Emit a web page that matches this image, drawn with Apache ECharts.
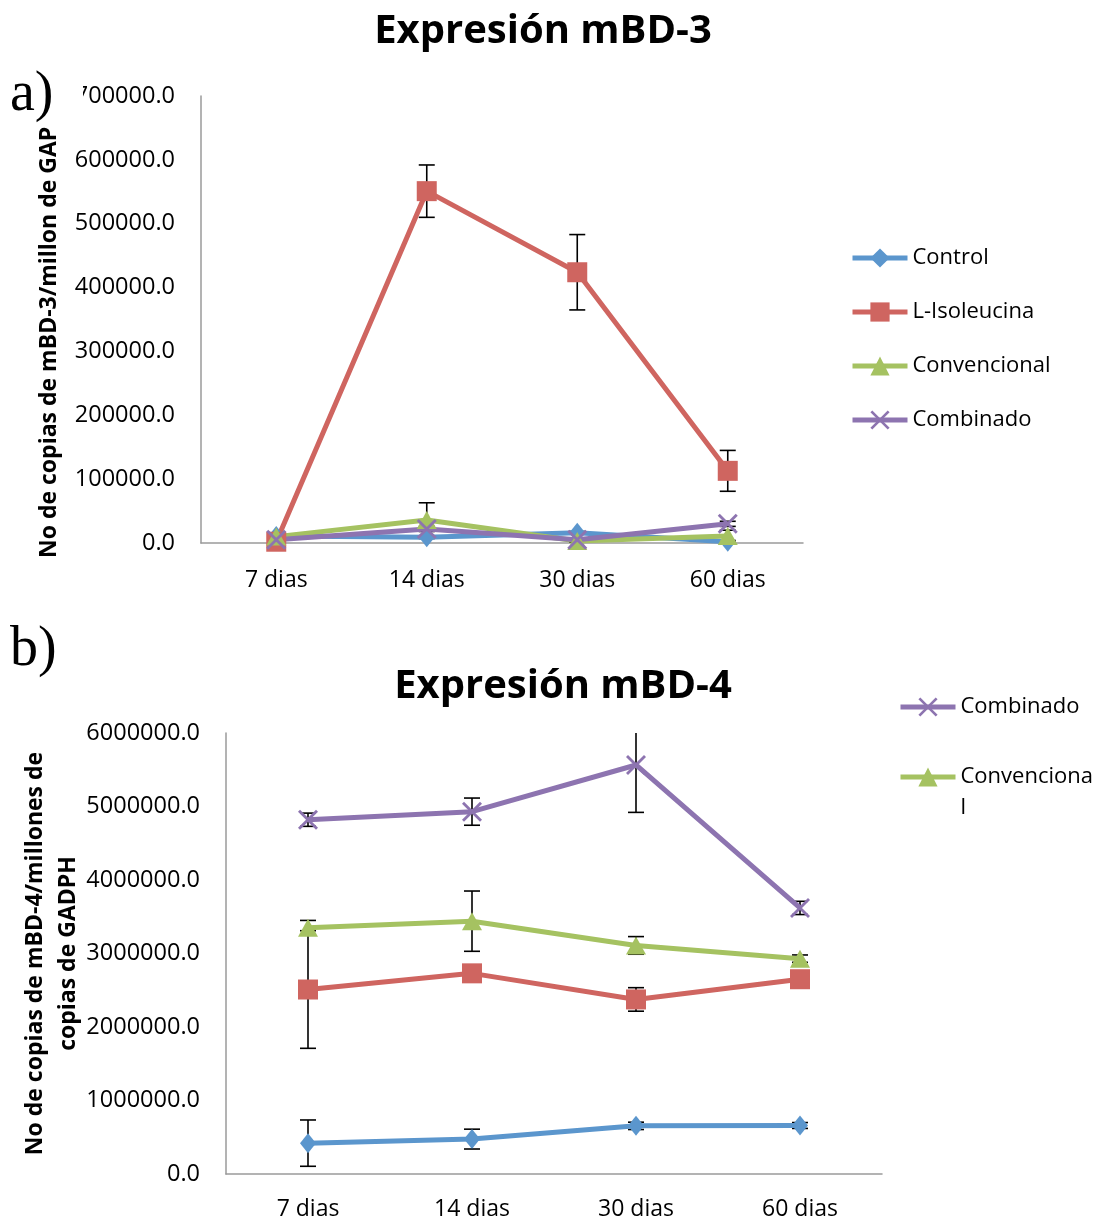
<!DOCTYPE html>
<html>
<head>
<meta charset="utf-8">
<script src="https://cdn.jsdelivr.net/npm/echarts@6/dist/echarts.min.js"></script>
<style>
  html, body { margin: 0; padding: 0; background: #fff; }
  #chart { width: 1101px; height: 1221px; }
</style>
</head>
<body>
<div id="chart"></div>
<script>
// categories and series
const categories = ['7 dias', '14 dias', '30 dias', '60 dias']
const seriesNames = ['Control', 'L-Isoleucina', 'Convencional', 'Combinado']

// mBD-3 (copias / millon de GAPDH)
const mbd3Control = [11000, 9000, 16000, 2000]
const mbd3ControlErr = [2000, 2000, 2000, 2000]
const mbd3Isoleucina = [2000, 551000, 424000, 113000]
const mbd3IsoleucinaErr = [2000, 41000, 59000, 32000]
const mbd3Convencional = [10000, 36000, 3000, 11000]
const mbd3ConvencionalErr = [3000, 27000, 2000, 9000]
const mbd3Combinado = [5000, 22000, 5000, 30000]
const mbd3CombinadoErr = [2000, 4000, 2000, 4000]

// mBD-4 (copias / millones de copias de GADPH)
const mbd4Control = [420000, 475000, 655000, 660000]
const mbd4ControlErr = [315000, 135000, 50000, 40000]
const mbd4Isoleucina = [2510000, 2730000, 2375000, 2650000]
const mbd4IsoleucinaErr = [800000, 40000, 160000, 40000]
const mbd4Convencional = [3350000, 3440000, 3110000, 2930000]
const mbd4ConvencionalErr = [100000, 410000, 120000, 50000]
const mbd4Combinado = [4820000, 4930000, 5565000, 3620000]
const mbd4CombinadoErr = [90000, 185000, 645000, 90000]

// tick settings
const mbd3Max = 700000
const mbd3Interval = 100000
const mbd4Max = 6000000
const mbd4Interval = 1000000

const colors = ['#5b96cd', '#cf6560', '#a5c261', '#8d74b0']
const symbols = [
  'diamond',
  'rect',
  'triangle',
  'path://M0,1 L1,0 L10,9 L9,10 Z M9,0 L10,1 L1,10 L0,9 Z',
]
const symbolSizes = [[16, 20], 20, [20, 18], 20]
const FONT = 'Open Sans'

const chart = echarts.init(document.getElementById('chart'), null, {
  renderer: 'canvas',
  width: 1101,
  height: 1221,
})

function lineSeries(idx, gridIdx, values) {
  return {
    name: seriesNames[idx],
    type: 'line',
    xAxisIndex: gridIdx,
    yAxisIndex: gridIdx,
    data: values,
    symbol: symbols[idx],
    symbolSize: symbolSizes[idx],
    showAllSymbol: true,
    lineStyle: { color: colors[idx], width: 5 },
    itemStyle: { color: colors[idx] },
    emphasis: { disabled: true },
    z: 3,
  }
}

function errorSeries(gridIdx, values, errs) {
  return {
    type: 'custom',
    xAxisIndex: gridIdx,
    yAxisIndex: gridIdx,
    clip: true,
    silent: true,
    z: 2,
    encode: { x: 0, y: [1, 2] },
    data: values.map((v, i) => [i, v - errs[i], v + errs[i]]),
    renderItem: (params, api) => {
      const i = api.value(0)
      const lo = api.coord([i, api.value(1)])
      const hi = api.coord([i, api.value(2)])
      const w = 8
      const style = { stroke: '#000', lineWidth: 1.6 }
      return {
        type: 'group',
        children: [
          { type: 'line', shape: { x1: lo[0], y1: lo[1], x2: hi[0], y2: hi[1] }, style },
          { type: 'line', shape: { x1: hi[0] - w, y1: hi[1], x2: hi[0] + w, y2: hi[1] }, style },
          { type: 'line', shape: { x1: lo[0] - w, y1: lo[1], x2: lo[0] + w, y2: lo[1] }, style },
        ],
      }
    },
  }
}

const axisLineStyle = { show: true, lineStyle: { color: '#9a9a9a', width: 1.5 } }

function xAxisFor(gridIdx, margin) {
  return {
    type: 'category',
    gridIndex: gridIdx,
    data: categories,
    boundaryGap: true,
    axisLine: axisLineStyle,
    axisTick: { show: false },
    axisLabel: { fontFamily: FONT, fontSize: 23, color: '#000', margin },
  }
}

function yAxisFor(gridIdx, max, interval) {
  return {
    type: 'value',
    gridIndex: gridIdx,
    min: 0,
    max,
    interval,
    axisLine: axisLineStyle,
    axisTick: { show: false },
    splitLine: { show: false },
    axisLabel: {
      fontFamily: FONT,
      fontSize: 23.5,
      color: '#000',
      margin: 26,
      formatter: (v) => v.toFixed(1),
    },
  }
}

const legendText = { fontFamily: FONT, fontSize: 22, color: '#000' }

const option = {
  backgroundColor: '#fff',
  animation: false,
  textStyle: { fontFamily: FONT },
  title: [
    {
      text: 'Expresión mBD-3',
      left: 538,
      top: 7,
      textAlign: 'center',
      textStyle: { fontFamily: FONT, fontSize: 40, fontWeight: 'bold', color: '#000' },
    },
    {
      text: 'Expresión mBD-4',
      left: 558,
      top: 662,
      textAlign: 'center',
      textStyle: { fontFamily: FONT, fontSize: 40, fontWeight: 'bold', color: '#000' },
    },
  ],
  legend: [
    {
      orient: 'vertical',
      left: 850,
      top: 247,
      padding: 0,
      itemWidth: 55,
      itemHeight: 24,
      itemGap: 32,
      data: seriesNames,
      lineStyle: { width: 5 },
      textStyle: Object.assign({ lineHeight: 22 }, legendText),
      selectedMode: false,
    },
    {
      orient: 'vertical',
      left: 898,
      top: 691.5,
      padding: 0,
      itemWidth: 55,
      itemHeight: 24,
      itemGap: 8,
      data: ['Combinado', 'Convencional'],
      lineStyle: { width: 5 },
      // the reference wraps the long name under its icon
      formatter: (name) => (name === 'Convencional' ? '\nConvenciona\nl' : name),
      textStyle: Object.assign({ lineHeight: 31 }, legendText),
      selectedMode: false,
    },
  ],
  grid: [
    { left: 201, top: 96, width: 602, height: 447, containLabel: false },
    { left: 226, top: 733, width: 656, height: 442, containLabel: false },
  ],
  xAxis: [xAxisFor(0, 26), xAxisFor(1, 24)],
  yAxis: [
    yAxisFor(0, mbd3Max, mbd3Interval),
    Object.assign(yAxisFor(1, mbd4Max, mbd4Interval), {
      name: 'No de copias de mBD-4/millones de\ncopias de GADPH',
      nameLocation: 'middle',
      nameGap: 141,
      nameMoveOverlap: false,
      nameRotate: 90,
      nameTextStyle: {
        fontFamily: FONT,
        fontSize: 23,
        fontWeight: 'bold',
        color: '#000',
        lineHeight: 33,
      },
    }),
  ],
  graphic: [
    {
      type: 'text',
      x: 49,
      y: 558,
      rotation: Math.PI / 2,
      z: 50,
      style: {
        text: 'No de copias de mBD-3/millon de GAPDH',
        fontFamily: FONT,
        fontSize: 23,
        fontWeight: 'bold',
        fill: '#000',
        align: 'left',
        verticalAlign: 'middle',
        width: 440,
        overflow: 'truncate',
        ellipsis: '',
      },
    },
    {
      type: 'rect',
      z: 60,
      shape: { x: 0, y: 62, width: 83, height: 64 },
      style: { fill: '#fff' },
    },
    {
      type: 'text',
      x: 10,
      y: 95,
      z: 70,
      style: {
        text: 'a)',
        fontFamily: 'Liberation Serif',
        fontSize: 56,
        fill: '#000',
        verticalAlign: 'middle',
      },
    },
    {
      type: 'text',
      x: 10,
      y: 650,
      z: 70,
      style: {
        text: 'b)',
        fontFamily: 'Liberation Serif',
        fontSize: 56,
        fill: '#000',
        verticalAlign: 'middle',
      },
    },
  ],
  series: [
    errorSeries(0, mbd3Control, mbd3ControlErr),
    errorSeries(0, mbd3Isoleucina, mbd3IsoleucinaErr),
    errorSeries(0, mbd3Convencional, mbd3ConvencionalErr),
    errorSeries(0, mbd3Combinado, mbd3CombinadoErr),
    lineSeries(0, 0, mbd3Control),
    lineSeries(1, 0, mbd3Isoleucina),
    lineSeries(2, 0, mbd3Convencional),
    lineSeries(3, 0, mbd3Combinado),
    errorSeries(1, mbd4Control, mbd4ControlErr),
    errorSeries(1, mbd4Isoleucina, mbd4IsoleucinaErr),
    errorSeries(1, mbd4Convencional, mbd4ConvencionalErr),
    errorSeries(1, mbd4Combinado, mbd4CombinadoErr),
    lineSeries(0, 1, mbd4Control),
    lineSeries(1, 1, mbd4Isoleucina),
    lineSeries(2, 1, mbd4Convencional),
    lineSeries(3, 1, mbd4Combinado),
  ],
}

chart.setOption(option)
</script>
</body>
</html>
